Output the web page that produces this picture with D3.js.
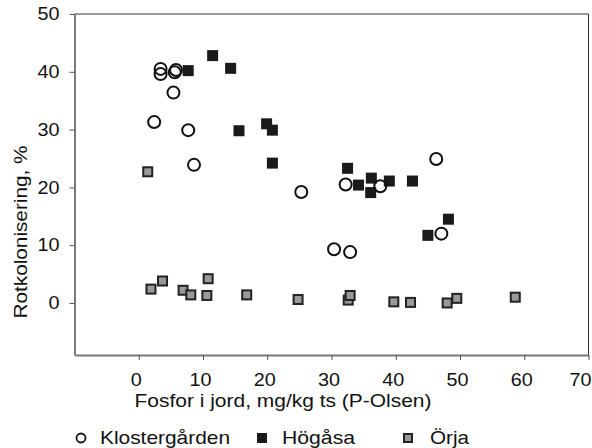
<!DOCTYPE html>
<html lang="sv">
<head>
    <meta charset="UTF-8">
    <title>Rotkolonisering vs fosfor</title>
    <script src="https://d3js.org/d3.v7.min.js"></script>
    <style>
      body { margin: 0; background: #fff; }
      text { font-family: "Liberation Sans", Arial, sans-serif; fill: #111; }
    </style>
</head>
<body>
    <script>

      // Values: [fosfor mg/kg, rotkolonisering %]
      const klostergarden = [
        [3.4, 40.5], [3.4, 39.6], [5.8, 40.3], [5.6, 39.9], [5.4, 36.4],
        [2.4, 31.3], [7.7, 29.9], [8.6, 23.9], [25.3, 19.2], [32.2, 20.5],
        [37.6, 20.2], [46.3, 24.9], [47.1, 12.0], [30.4, 9.3], [32.9, 8.8]
      ];
      const hogasa = [
        [7.7, 40.2], [11.5, 42.8], [14.3, 40.6], [15.6, 29.8], [19.9, 31.0],
        [20.8, 29.9], [20.8, 24.2], [32.5, 23.3], [34.2, 20.4], [36.2, 21.6],
        [36.1, 19.1], [39.0, 21.1], [42.6, 21.1], [48.2, 14.5], [45.0, 11.7]
      ];
      const orja = [
        [1.4, 22.7], [1.9, 2.4], [3.7, 3.8], [6.9, 2.2], [8.1, 1.4],
        [10.8, 4.2], [10.6, 1.3], [16.8, 1.4], [24.8, 0.6], [32.6, 0.5],
        [32.9, 1.3], [39.7, 0.2], [42.3, 0.1], [48.0, 0.0], [49.5, 0.8],
        [58.6, 1.0]
      ];
      const xTicks = [0, 10, 20, 30, 40, 50, 60, 70];
      const yTicks = [0, 10, 20, 30, 40, 50];
      const legendNames = ["Klostergården", "Högåsa", "Örja"];

      const width = 592, height = 448;
      const svg = d3.select("body").append("svg")
        .attr("width", width).attr("height", height);

      const x = d3.scaleLinear().domain([-10, 70]).range([74.5, 588.5]);
      const y = d3.scaleLinear().domain([-9, 50]).range([355, 14]);

      // the original text is a bit wider than Arial, stretch it
      function stretch(sel, k) {
        sel.each(function() {
          const w = this.getComputedTextLength();
          d3.select(this).attr("textLength", w * k).attr("lengthAdjust", "spacingAndGlyphs");
        });
      }

      // frame top + right
      svg.append("path")
        .attr("d", `M${x(-10)},${y(50)}H${x(70)}V${y(-9)}`)
        .attr("fill", "none").attr("stroke", "#333").attr("stroke-width", 1);

      // x axis
      const xAxis = svg.append("g")
        .attr("transform", `translate(0,${y(-9)})`)
        .call(d3.axisBottom(x).tickValues(xTicks).tickSize(5).tickPadding(7).tickSizeOuter(0));
      // y axis
      const yAxis = svg.append("g")
        .attr("transform", `translate(${x(-10)},0)`)
        .call(d3.axisLeft(y).tickValues(yTicks).tickSize(5).tickPadding(10).tickSizeOuter(0));

      [xAxis, yAxis].forEach(g => {
        g.select(".domain").attr("stroke", "#7a7a7a").attr("stroke-width", 2);
        g.selectAll(".tick line").attr("stroke", "#555");
        g.selectAll(".tick text").style("font-size", "18px").attr("fill", "#111")
          .attr("font-family", null);
        stretch(g.selectAll(".tick text"), 1.1);
      });
      xAxis.selectAll(".tick text")
        .attr("dy", "19px")
        .attr("x", d => Math.min(-3, 591 - x(d) - 11));

      // axis titles
      svg.append("text")
        .attr("x", 283).attr("y", 407)
        .attr("text-anchor", "middle")
        .style("font-size", "18.5px")
        .attr("textLength", 297).attr("lengthAdjust", "spacingAndGlyphs")
        .text("Fosfor i jord, mg/kg ts (P-Olsen)");

      svg.append("text")
        .attr("transform", "translate(27,232) rotate(-90)")
        .attr("text-anchor", "middle")
        .style("font-size", "18.5px")
        .attr("textLength", 173).attr("lengthAdjust", "spacingAndGlyphs")
        .text("Rotkolonisering, %");

      // points
      svg.append("g").selectAll("rect")
        .data(hogasa)
        .enter().append("rect")
        .attr("x", d => x(d[0]) - 5.5)
        .attr("y", d => y(d[1]) - 5.5)
        .attr("width", 11).attr("height", 11)
        .attr("fill", "#1a1a1a");

      svg.append("g").selectAll("circle")
        .data(klostergarden)
        .enter().append("circle")
        .attr("cx", d => x(d[0]))
        .attr("cy", d => y(d[1]))
        .attr("r", 6)
        .attr("fill", "none")
        .attr("stroke", "#111")
        .attr("stroke-width", 2);

      svg.append("g").selectAll("rect")
        .data(orja)
        .enter().append("rect")
        .attr("x", d => x(d[0]) - 4.5)
        .attr("y", d => y(d[1]) - 4.5)
        .attr("width", 9).attr("height", 9)
        .attr("fill", "#999")
        .attr("stroke", "#222")
        .attr("stroke-width", 2);

      // legend
      const leg = svg.append("g");
      const legY = 438;
      leg.append("circle").attr("cx", 81).attr("cy", legY).attr("r", 4.5)
        .attr("fill", "none").attr("stroke", "#111").attr("stroke-width", 1.8);
      leg.append("rect").attr("x", 257).attr("y", legY - 5).attr("width", 10).attr("height", 10)
        .attr("fill", "#1a1a1a");
      leg.append("rect").attr("x", 404).attr("y", legY - 4).attr("width", 8).attr("height", 8)
        .attr("fill", "#999").attr("stroke", "#222").attr("stroke-width", 2);

      const legX = [100, 282, 430];
      const legW = [130, 73, 39];
      leg.selectAll("text.lab")
        .data(legendNames)
        .enter().append("text")
        .attr("class", "lab")
        .attr("x", (d, i) => legX[i])
        .attr("y", legY + 6)
        .style("font-size", "18.5px")
        .attr("textLength", (d, i) => legW[i])
        .attr("lengthAdjust", "spacingAndGlyphs")
        .text(d => d);

    </script>
</body>
</html>
